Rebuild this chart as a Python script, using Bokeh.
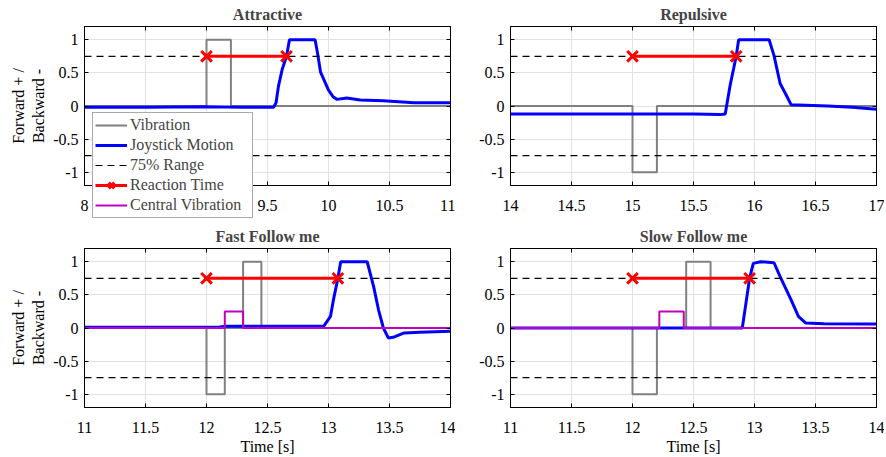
from bokeh.plotting import figure
from bokeh.models import (Range1d, LinearAxis, FixedTicker, Legend, LegendItem,
                          NumeralTickFormatter, GridBox, Column)
from bokeh.embed import file_html
from bokeh.resources import INLINE

FONT = "Liberation Serif"

# ---------------- data ----------------
y_ticks = [-1, -0.5, 0, 0.5, 1]
y_lim = [-1.2, 1.2]
range_level = 0.75

# Attractive
att_xlim = [8, 11]
att_xticks = [8, 8.5, 9, 9.5, 10, 10.5, 11]
att_vib_t = [8, 9.0, 9.0, 9.2, 9.2, 11]
att_vib_v = [0, 0, 1, 1, 0, 0]
att_joy_t = [8.0, 8.5, 9.0, 9.3, 9.55, 9.57, 9.59, 9.62, 9.656, 9.68, 9.89, 9.91, 9.935, 10.0, 10.04, 10.07, 10.15, 10.26, 10.45, 10.7, 11.0]
att_joy_v = [-0.02, -0.02, -0.01, -0.02, -0.02, 0.05, 0.3, 0.55, 0.75, 1.0, 1.0, 0.8, 0.51, 0.24, 0.135, 0.1, 0.12, 0.09, 0.08, 0.05, 0.05]
att_rt = [9.0, 9.656]

# Repulsive
rep_xlim = [14, 17]
rep_xticks = [14, 14.5, 15, 15.5, 16, 16.5, 17]
rep_vib_t = [14, 15.0, 15.0, 15.2, 15.2, 17]
rep_vib_v = [0, 0, -1, -1, 0, 0]
rep_joy_t = [14.0, 14.5, 15.0, 15.5, 15.72, 15.76, 15.8, 15.85, 15.87, 16.12, 16.16, 16.21, 16.25, 16.3, 16.6, 16.8, 16.95, 17.0]
rep_joy_v = [-0.12, -0.12, -0.12, -0.12, -0.13, -0.12, 0.31, 0.75, 1.0, 1.0, 0.76, 0.34, 0.2, 0.02, 0.0, -0.02, -0.04, -0.05]
rep_rt = [15.0, 15.85]

# Fast Follow me
fast_xlim = [11, 14]
fast_xticks = [11, 11.5, 12, 12.5, 13, 13.5, 14]
fast_vib_t = [11, 12.0, 12.0, 12.15, 12.15, 12.3, 12.3, 12.45, 12.45, 14]
fast_vib_v = [0, 0, -1, -1, 0, 0, 1, 1, 0, 0]
fast_cen_t = [11, 12.15, 12.15, 12.3, 12.3, 14]
fast_cen_v = [0, 0, 0.25, 0.25, 0, 0]
fast_joy_t = [11.0, 11.5, 12.1, 12.15, 12.5, 12.96, 13.016, 13.04, 13.077, 13.1, 13.317, 13.37, 13.41, 13.45, 13.49, 13.53, 13.62, 13.75, 14.0]
fast_joy_v = [0.01, 0.01, 0.01, 0.025, 0.025, 0.025, 0.175, 0.42, 0.75, 1.0, 1.0, 0.625, 0.275, 0.0, -0.15, -0.14, -0.075, -0.065, -0.05]
fast_rt = [12.0, 13.077]

# Slow Follow me
slow_xlim = [11, 14]
slow_xticks = [11, 11.5, 12, 12.5, 13, 13.5, 14]
slow_vib_t = [11, 12.0, 12.0, 12.2, 12.2, 12.44, 12.44, 12.64, 12.64, 14]
slow_vib_v = [0, 0, -1, -1, 0, 0, 1, 1, 0, 0]
slow_cen_t = [11, 12.22, 12.22, 12.42, 12.42, 14]
slow_cen_v = [0, 0, 0.25, 0.25, 0, 0]
slow_joy_t = [11.0, 11.5, 12.0, 12.5, 12.9, 12.93, 12.96, 12.99, 13.05, 13.16, 13.21, 13.3, 13.36, 13.42, 13.57, 13.98, 14.0]
slow_joy_v = [0.0, 0.0, 0.0, 0.0, 0.0, 0.375, 0.75, 0.975, 1.0, 0.985, 0.775, 0.425, 0.175, 0.075, 0.065, 0.06, 0.06]
slow_rt = [12.0, 12.96]

legend_labels = ["Vibration", "Joystick Motion", "75% Range", "Reaction Time", "Central Vibration"]

# ---------------- styling ----------------
GRAY = "#808080"
BLUE = "#0000FF"
RED = "#FF0000"
MAG = "#BF00BF"
FRAME_W = 366
FRAME_H = 160
TXT = "16px"
DASH = "7 5"


def draw_series(p, xlim, vib_t, vib_v, joy_t, joy_v, rt, cen_t, cen_v):
    r_vib = p.line(vib_t, vib_v, line_color=GRAY, line_width=2)
    r_joy = p.line(joy_t, joy_v, line_color=BLUE, line_width=3)
    r_rng = p.line(xlim, [range_level] * len(xlim), line_color="black", line_width=1.2, line_dash=DASH)
    p.line(xlim, [-range_level] * len(xlim), line_color="black", line_width=1.2, line_dash=DASH)
    r_rt = p.line(rt, [range_level] * len(rt), line_color=RED, line_width=3)
    r_rtm = p.scatter(rt, [range_level] * len(rt), marker="x", size=15, line_color=RED, line_width=3)
    r_cen = p.line(cen_t, cen_v, line_color=MAG, line_width=2)
    return r_vib, r_joy, r_rng, r_rt, r_rtm, r_cen


def make_panel(title, xlim, xticks, vib_t, vib_v, joy_t, joy_v, rt,
               cen_t=None, cen_v=None, left=True, bottom=False):
    mbl = 84 if left else 55
    mbr = 5 if left else 8
    mbt = 25
    mbb = 50 if bottom else 37
    p = figure(width=mbl + FRAME_W + mbr, height=mbt + FRAME_H + mbb,
               x_range=Range1d(xlim[0], xlim[1]), y_range=Range1d(y_lim[0], y_lim[1]),
               output_backend="svg", toolbar_location=None,
               min_border_left=mbl, min_border_right=mbr,
               min_border_top=mbt, min_border_bottom=mbb,
               background_fill_color="white", border_fill_color="white",
               x_axis_location=None, y_axis_location=None)
    p.title.text = title
    p.title.align = "center"
    p.title.text_font = FONT
    p.title.text_font_size = TXT
    p.title.text_font_style = "bold"
    p.title.standoff = 7
    p.outline_line_color = "black"

    fmt = NumeralTickFormatter(format="0.[0]")
    xax = LinearAxis(ticker=FixedTicker(ticks=xticks), formatter=fmt)
    yax = LinearAxis(ticker=FixedTicker(ticks=y_ticks), formatter=fmt)
    for ax in (xax, yax):
        ax.major_tick_in = 4
        ax.major_tick_out = 0
        ax.minor_tick_line_color = None
        ax.axis_line_color = "black"
        ax.major_tick_line_color = "black"
        ax.major_label_text_font = FONT
        ax.major_label_text_font_size = TXT
        ax.major_label_text_color = "black"
        ax.axis_label_text_font = FONT
        ax.axis_label_text_font_size = TXT
        ax.axis_label_text_font_style = "normal"
        ax.axis_label_text_color = "black"
    xax.major_label_standoff = 14
    yax.major_label_standoff = 6
    if left:
        yax.axis_label = "Forward + /\nBackward -"
        yax.axis_label_standoff = 3
    if bottom:
        xax.axis_label = "Time [s]"
        xax.axis_label_standoff = 2
    p.add_layout(xax, "below")
    p.add_layout(yax, "left")

    # box ticks on top / right (no labels)
    top = LinearAxis(ticker=FixedTicker(ticks=xticks), major_tick_in=4, major_tick_out=0,
                     minor_tick_line_color=None, major_label_text_font_size="1px",
                     major_label_text_color=None, major_label_standoff=0,
                     axis_line_color="black")
    right = LinearAxis(ticker=FixedTicker(ticks=y_ticks), major_tick_in=4, major_tick_out=0,
                       minor_tick_line_color=None, major_label_text_font_size="1px",
                       major_label_text_color=None, major_label_standoff=0,
                       axis_line_color="black")
    p.add_layout(top, "above")
    p.add_layout(right, "right")

    p.xgrid.ticker = FixedTicker(ticks=xticks)
    p.ygrid.ticker = FixedTicker(ticks=y_ticks)
    p.xgrid.grid_line_color = "#e2e2e2"
    p.ygrid.grid_line_color = "#e2e2e2"

    draw_series(p, xlim, vib_t, vib_v, joy_t, joy_v, rt,
                cen_t if cen_t is not None else [], cen_v if cen_v is not None else [])
    return p


p_att = make_panel("Attractive", att_xlim, att_xticks, att_vib_t, att_vib_v,
                   att_joy_t, att_joy_v, att_rt, left=True)
p_rep = make_panel("Repulsive", rep_xlim, rep_xticks, rep_vib_t, rep_vib_v,
                   rep_joy_t, rep_joy_v, rep_rt, left=False)
p_fast = make_panel("Fast Follow me", fast_xlim, fast_xticks, fast_vib_t, fast_vib_v,
                    fast_joy_t, fast_joy_v, fast_rt, fast_cen_t, fast_cen_v, left=True, bottom=True)
p_slow = make_panel("Slow Follow me", slow_xlim, slow_xticks, slow_vib_t, slow_vib_v,
                    slow_joy_t, slow_joy_v, slow_rt, slow_cen_t, slow_cen_v, left=False, bottom=True)

# transparent overlay, same size as the Attractive panel, carrying the legend box.
# Its series lie outside its (0..1) view, so only the legend swatches show.
p_leg = figure(width=p_att.width, height=p_att.height, x_range=Range1d(0, 1), y_range=Range1d(0, 1),
               output_backend="svg", toolbar_location=None, title_location=None,
               min_border=0, min_border_left=0, min_border_right=0,
               min_border_top=0, min_border_bottom=0,
               x_axis_location=None, y_axis_location=None,
               background_fill_color=None, border_fill_color=None)
p_leg.outline_line_color = None
p_leg.xgrid.visible = False
p_leg.ygrid.visible = False
r_vib, r_joy, r_rng, r_rt, r_rtm, r_cen = draw_series(
    p_leg, att_xlim, att_vib_t, att_vib_v, att_joy_t, att_joy_v, att_rt, fast_cen_t, fast_cen_v)
lg = Legend(items=[
    LegendItem(label=legend_labels[0], renderers=[r_vib]),
    LegendItem(label=legend_labels[1], renderers=[r_joy]),
    LegendItem(label=legend_labels[2], renderers=[r_rng]),
    LegendItem(label=legend_labels[3], renderers=[r_rt, r_rtm]),
    LegendItem(label=legend_labels[4], renderers=[r_cen]),
], location=(92, 4))
lg.label_text_font = FONT
lg.label_text_font_size = TXT
lg.label_height = 20
lg.glyph_height = 20
lg.glyph_width = 32
lg.label_width = 120
lg.label_standoff = 3
lg.spacing = 0
lg.padding = 2
lg.margin = 0
lg.border_line_color = "#555555"
lg.border_line_width = 1
lg.background_fill_color = "white"
lg.background_fill_alpha = 1.0
p_leg.add_layout(lg, "center")

layout = GridBox(children=[(p_att, 0, 0), (p_rep, 0, 1), (p_fast, 1, 0), (p_slow, 1, 1),
                           (Column(children=[p_leg]), 0, 0)], spacing=0)

open("out.html", "w").write(file_html(layout, INLINE))
